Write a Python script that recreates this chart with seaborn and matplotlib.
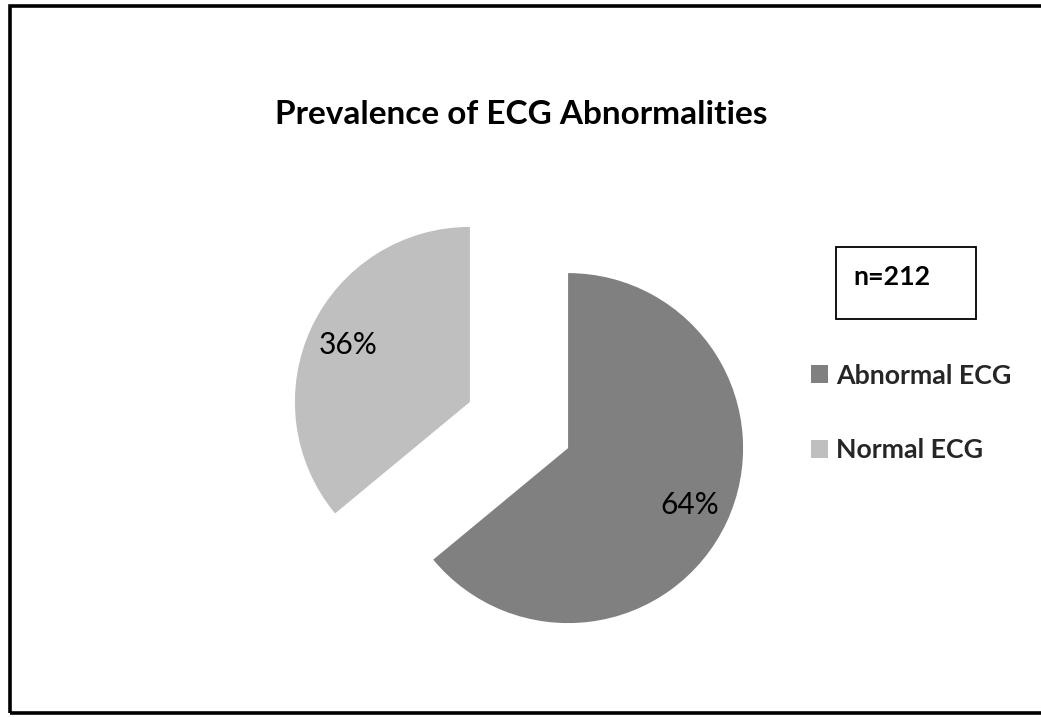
import matplotlib
matplotlib.use("Agg")
import matplotlib.pyplot as plt
from matplotlib.patches import Rectangle
import seaborn as sns

# ---- data ----
categories = ["Abnormal ECG", "Normal ECG"]
percentages = [64, 36]
slice_colors = ["#808080", "#BFBFBF"]
title_text = "Prevalence of ECG Abnormalities"
sample_note = "n=212"

sns.set_theme(style="white")
plt.rcParams["font.family"] = ["Lato", "DejaVu Sans"]

W, H = 1041, 717
fig = plt.figure(figsize=(W / 100, H / 100), dpi=100)
fig.patch.set_facecolor("white")

# pie axes: centre (519, 425) px, radius 175 px
cx, cy, r = 519, 425, 175
S = 250
ax = fig.add_axes([(cx - S) / W, (H - cy - S) / H, 2 * S / W, 2 * S / H])
ax.set_facecolor("none")
wedges, texts, autotexts = ax.pie(
    percentages,
    colors=slice_colors,
    startangle=90,
    counterclock=False,
    explode=[0.31, 0.31],
    autopct="%1.0f%%",
    pctdistance=0.77,
    textprops=dict(fontsize=21.5, color="black"),
    wedgeprops=dict(linewidth=0),
)
ax.set_xlim(-S / r, S / r)
ax.set_ylim(-S / r, S / r)
ax.set_aspect("equal")
ax.axis("off")

# title
fig.text(521 / W, 1 - 115 / H, title_text, ha="center", va="center",
         fontsize=24, fontweight="bold", color="black")

# legend
fs_leg = 19.3
fig.legend(wedges, categories, loc="center left",
           bbox_to_anchor=(811 / W, 1 - 413 / H),
           frameon=False, borderpad=0, borderaxespad=0,
           handlelength=0.64, handleheight=0.64, handletextpad=0.28,
           labelspacing=1.9,
           prop=dict(family=["Lato", "DejaVu Sans"], weight="bold", size=fs_leg))

# n box
fig.add_artist(Rectangle((836 / W, 1 - 319 / H), 140 / W, 72 / H,
                         transform=fig.transFigure, fill=False,
                         edgecolor="black", linewidth=1.3))
fig.text(892 / W, 1 - 277 / H, sample_note, ha="center", va="center",
         fontsize=fs_leg, fontweight="bold", color="black")

# outer frame (right side lies outside the image)
fig.add_artist(Rectangle((10 / W, 1 - 713 / H), 1040 / W, 707 / H,
                         transform=fig.transFigure, fill=False,
                         edgecolor="black", linewidth=2.6))

fig.savefig("out.png", dpi=100)
